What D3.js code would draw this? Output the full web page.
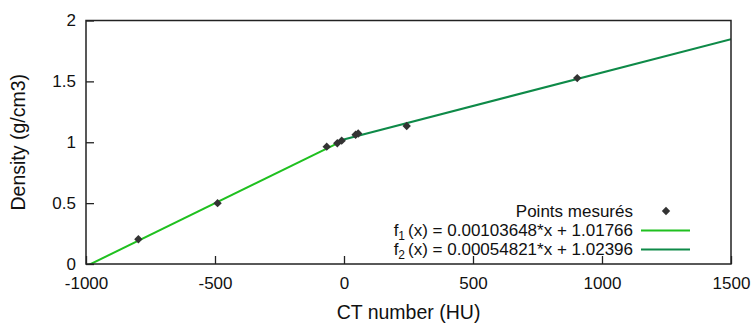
<!DOCTYPE html>
<html><head><meta charset="utf-8">
<script src="https://cdn.jsdelivr.net/npm/d3@7"></script>
<style>body{margin:0;background:#fff}svg{display:block}text{font-family:"Liberation Sans",Arial,sans-serif;fill:#111}</style>
</head><body><svg id="c" width="753" height="323"></svg>
<script>
const pointsX = [-797, -490, -67, -26, -9, 45, 55, 243, 904];
const pointsY = [0.203, 0.50, 0.964, 0.992, 1.013, 1.062, 1.072, 1.134, 1.527];
const f1 = {a: 0.00103648, b: 1.01766, from: -1000, to: 0};
const f2 = {a: 0.00054821, b: 1.02396, from: -20, to: 1500};
const xTicks = [-1000, -500, 0, 500, 1000, 1500];
const yTicks = [0, 0.5, 1, 1.5, 2];
const legendLabels = ["Points mesurés", ["f","1","(x) = 0.00103648*x + 1.01766"], ["f","2","(x) = 0.00054821*x + 1.02396"]];
const colors = {pt: "#333333", f1: "#1fc01f", f2: "#0e8a48"};

const svg = d3.select("#c");
const L = 86, R = 731, T = 20.5, B = 264;
const x = d3.scaleLinear().domain([-1000, 1500]).range([L, R]);
const y = d3.scaleLinear().domain([0, 2]).range([B, T]);

const xa = svg.append("g").attr("transform", `translate(0,${B})`)
  .call(d3.axisBottom(x).tickValues(xTicks).tickSizeInner(-8).tickSizeOuter(0).tickFormat(d => String(d)));
const ya = svg.append("g").attr("transform", `translate(${L},0)`)
  .call(d3.axisLeft(y).tickValues(yTicks).tickSizeInner(-8).tickSizeOuter(0).tickFormat(d => String(d)));
[xa, ya].forEach(g => {
  g.select(".domain").remove();
  g.selectAll("line").attr("stroke", "#222").attr("stroke-width", 1.3);
  g.selectAll("text").attr("font-size", 17).attr("fill", "#111").style("font-family", '"Liberation Sans",Arial,sans-serif');
});
xa.selectAll("text").attr("dy", "0.71em").attr("y", 13);
ya.selectAll("text").attr("x", -10);

function seg(f) {
  const pts = [[f.from, f.a * f.from + f.b], [f.to, f.a * f.to + f.b]];
  return d3.line().x(d => x(d[0])).y(d => y(d[1]))(pts);
}
svg.append("clipPath").attr("id", "cp").append("rect").attr("x", L).attr("y", T).attr("width", R - L).attr("height", B - T);
svg.append("path").attr("d", seg(f1)).attr("stroke", colors.f1).attr("stroke-width", 2).attr("fill", "none").attr("clip-path", "url(#cp)");
svg.append("path").attr("d", seg(f2)).attr("stroke", colors.f2).attr("stroke-width", 2).attr("fill", "none").attr("clip-path", "url(#cp)");

const diamond = d3.symbol().type(d3.symbolDiamond2).size(45);
svg.append("g").selectAll("path").data(pointsX.map((v, i) => [v, pointsY[i]])).join("path")
  .attr("d", diamond).attr("transform", d => `translate(${x(d[0])},${y(d[1])})`).attr("fill", colors.pt);

svg.append("rect").attr("x", L).attr("y", T).attr("width", R - L).attr("height", B - T)
  .attr("fill", "none").attr("stroke", "#222").attr("stroke-width", 1.5);

const lgY = [211, 230.5, 249.5];
const tx = 633;
legendLabels.forEach((lab, i) => {
  const t = svg.append("text").attr("x", tx).attr("y", lgY[i] + 5.8).attr("text-anchor", "end").attr("font-size", 17);
  if (typeof lab === "string") t.text(lab);
  else {
    t.append("tspan").text(lab[0]);
    t.append("tspan").attr("font-size", 12).attr("dy", 4).text(lab[1]);
    t.append("tspan").attr("dy", -4).attr("dx", 3).text(lab[2]);
  }
});
svg.append("path").attr("d", diamond).attr("transform", `translate(666,${lgY[0]})`).attr("fill", colors.pt);
svg.append("line").attr("x1", 641).attr("x2", 690).attr("y1", lgY[1]).attr("y2", lgY[1]).attr("stroke", colors.f1).attr("stroke-width", 2);
svg.append("line").attr("x1", 641).attr("x2", 690).attr("y1", lgY[2]).attr("y2", lgY[2]).attr("stroke", colors.f2).attr("stroke-width", 2);

svg.append("text").attr("x", (L + R) / 2).attr("y", 319).attr("text-anchor", "middle").attr("font-size", 19.5).text("CT number (HU)");
svg.append("text").attr("transform", `translate(25,${(T + B) / 2}) rotate(-90)`).attr("text-anchor", "middle").attr("font-size", 19.5).text("Density (g/cm3)");
</script></body></html>
